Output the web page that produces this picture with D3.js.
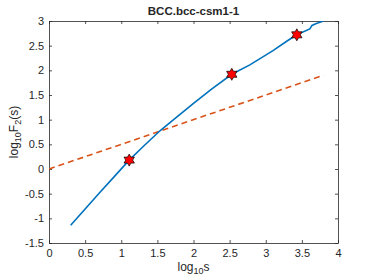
<!DOCTYPE html>
<html>
<head>
  <script src="https://d3js.org/d3.v7.min.js"></script>
  <style>
    body { margin: 0; background: #fff; }
    text { font-family: "Liberation Sans", Arial, sans-serif; fill: #262626; }
  </style>
</head>
<body>
  <svg id="chart" width="374" height="280"></svg>
  <script>
    // fluctuation function curve, log10 s vs log10 F2(s)
    const logS = [0.30, 0.50, 0.70, 0.90, 1.11, 1.30, 1.54, 1.75, 2.00, 2.25, 2.53, 2.78, 3.10, 3.30, 3.43, 3.61, 3.64, 3.70, 3.80];
    const logF = [-1.14, -0.81, -0.48, -0.16, 0.18, 0.45, 0.78, 1.03, 1.33, 1.62, 1.92, 2.11, 2.40, 2.60, 2.72, 2.84, 2.91, 2.95, 3.00];
    // crossover points
    const starX = [1.11, 2.53, 3.43];
    const starY = [0.18, 1.92, 2.72];
    // reference line (slope 0.5)
    const refX = [0, 3.8];
    const refY = [0, 1.9];

    const xTicks = [0, 0.5, 1, 1.5, 2, 2.5, 3, 3.5, 4];
    const yTicks = [-1.5, -1, -0.5, 0, 0.5, 1, 1.5, 2, 2.5, 3];

    const svg = d3.select("#chart");
    const L = 49, R = 338, T = 21, B = 243;

    const x = d3.scaleLinear().domain([0, 4]).range([L, R]);
    const y = d3.scaleLinear().domain([-1.5, 3]).range([B, T]);

    svg.append("clipPath").attr("id", "clip")
      .append("rect").attr("x", L).attr("y", T).attr("width", R - L).attr("height", B - T);

    const fmt = d => String(d);

    // axes
    const gx = svg.append("g").attr("transform", `translate(0,${B})`)
      .call(d3.axisBottom(x).tickValues(xTicks).tickFormat(fmt).tickSizeInner(-3).tickSizeOuter(0).tickPadding(6));
    const gxTop = svg.append("g").attr("transform", `translate(0,${T})`)
      .call(d3.axisTop(x).tickValues(xTicks).tickFormat("").tickSizeInner(-3).tickSizeOuter(0));
    const gy = svg.append("g").attr("transform", `translate(${L},0)`)
      .call(d3.axisLeft(y).tickValues(yTicks).tickFormat(fmt).tickSizeInner(-3).tickSizeOuter(0).tickPadding(5));
    const gyR = svg.append("g").attr("transform", `translate(${R},0)`)
      .call(d3.axisRight(y).tickValues(yTicks).tickFormat("").tickSizeInner(-3).tickSizeOuter(0));

    [gx, gxTop, gy, gyR].forEach(g => {
      g.selectAll(".domain").attr("stroke", "#262626").attr("stroke-width", 0.8);
      g.selectAll(".tick line").attr("stroke", "#262626").attr("stroke-width", 0.8);
      g.selectAll("text").attr("font-size", 11).attr("fill", "#262626");
    });

    const plot = svg.append("g").attr("clip-path", "url(#clip)");

    const line = d3.line().x(d => x(d[0])).y(d => y(d[1]));

    plot.append("path")
      .datum(refX.map((v, i) => [v, refY[i]]))
      .attr("fill", "none")
      .attr("stroke", "#D95319")
      .attr("stroke-width", 1.6)
      .attr("stroke-dasharray", "6,4")
      .attr("d", line);

    plot.append("path")
      .datum(logS.map((v, i) => [v, logF[i]]))
      .attr("fill", "none")
      .attr("stroke", "#0072BD")
      .attr("stroke-width", 1.6)
      .attr("d", line);

    // hexagram marker
    function hexagram(r) {
      const pts = [];
      for (let k = 0; k < 12; k++) {
        const a = -Math.PI / 2 + k * Math.PI / 6;
        const rr = k % 2 === 0 ? r : r / Math.sqrt(3);
        pts.push([rr * Math.cos(a), rr * Math.sin(a)]);
      }
      return "M" + pts.map(p => p.join(",")).join("L") + "Z";
    }

    svg.append("g").selectAll("path")
      .data(starX.map((v, i) => [v, starY[i]]))
      .join("path")
      .attr("transform", d => `translate(${x(d[0])},${y(d[1])})`)
      .attr("d", hexagram(6))
      .attr("fill", "#FF0000")
      .attr("stroke", "#000")
      .attr("stroke-width", 0.7);

    // title
    svg.append("text")
      .attr("x", (L + R) / 2).attr("y", 15)
      .attr("text-anchor", "middle")
      .attr("font-size", 11.5).attr("font-weight", "bold")
      .attr("fill", "#000")
      .text("BCC.bcc-csm1-1");

    // x label
    const xl = svg.append("text")
      .attr("x", (L + R) / 2).attr("y", 271)
      .attr("text-anchor", "middle")
      .attr("font-size", 12);
    xl.append("tspan").text("log");
    xl.append("tspan").attr("font-size", 9).attr("dy", 3).text("10");
    xl.append("tspan").attr("dy", -3).text("s");

    // y label
    const yl = svg.append("text")
      .attr("transform", `translate(18,${(T + B) / 2}) rotate(-90)`)
      .attr("text-anchor", "middle")
      .attr("font-size", 12);
    yl.append("tspan").text("log");
    yl.append("tspan").attr("font-size", 9).attr("dy", 3).text("10");
    yl.append("tspan").attr("dy", -3).text("F");
    yl.append("tspan").attr("font-size", 9).attr("dy", 3).text("2");
    yl.append("tspan").attr("dy", -3).text("(s)");
  </script>
</body>
</html>
